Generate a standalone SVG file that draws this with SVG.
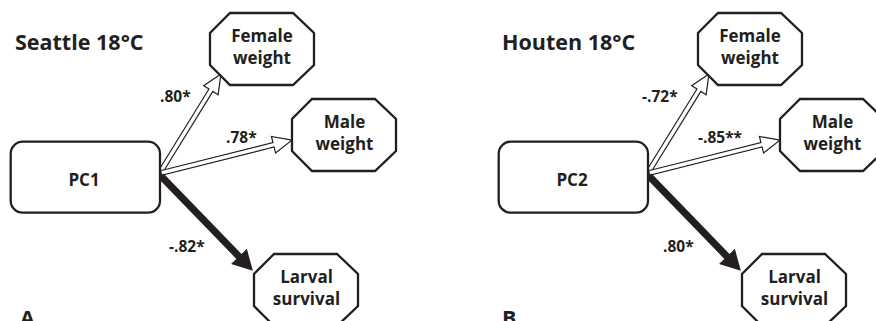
<svg xmlns="http://www.w3.org/2000/svg" xmlns:xlink="http://www.w3.org/1999/xlink" width="876" height="321" viewBox="0 0 876 321">
<style>
text{font-family:"Open Sans","DejaVu Sans",sans-serif;font-weight:700;fill:#231f20}
.title{font-size:21.5px}
.node{font-size:17px;text-anchor:middle}
.lbl{font-size:15.5px}
.box{fill:#fff;stroke:#231f20;stroke-width:2.3}
.open{fill:#fff;stroke:#231f20;stroke-width:1.2;stroke-linejoin:miter}
.solid{fill:#231f20;stroke:none}
</style>
<defs>
<polygon id="oct" class="box" points="20,0 83,0 104,20 104,52 83,72 20,72 0,52 0,20"/>
</defs>
<rect width="876" height="321" fill="#fff"/>
<text class="title" x="15" y="50">Seattle 18°C</text>
<text class="title" x="502" y="50">Houten 18°C</text>
<g id="connectors">
<path class="open" d="M0,-2.3 L95,-2.3 L95,-8.5 L114,0 L95,8.5 L95,2.3 L0,2.3 Z" transform="translate(161,171) rotate(-58.3)"/>
<path class="open" d="M0,-2.3 L116,-2.3 L116,-8.5 L135,0 L116,8.5 L116,2.3 L0,2.3 Z" transform="translate(161,173) rotate(-14.1)"/>
<path class="solid" d="M0,-3.6 L112,-3.6 L112,-11 L132,0 L112,11 L112,3.6 L0,3.6 Z" transform="translate(161,176) rotate(45.9)"/>
<path class="open" d="M0,-2.3 L95,-2.3 L95,-8.5 L114,0 L95,8.5 L95,2.3 L0,2.3 Z" transform="translate(649,171) rotate(-58.3)"/>
<path class="open" d="M0,-2.3 L116,-2.3 L116,-8.5 L135,0 L116,8.5 L116,2.3 L0,2.3 Z" transform="translate(649,173) rotate(-14.1)"/>
<path class="solid" d="M0,-3.6 L112,-3.6 L112,-11 L132,0 L112,11 L112,3.6 L0,3.6 Z" transform="translate(649,176) rotate(45.9)"/>
<text class="lbl" x="160" y="102">.80*</text>
<text class="lbl" x="226" y="143">.78*</text>
<text class="lbl" x="169" y="252">-.82*</text>
<text class="lbl" x="642" y="102">-.72*</text>
<text class="lbl" x="698" y="143">-.85**</text>
<text class="lbl" x="663" y="252">.80*</text>
</g>
<g id="pc1"><rect class="box" x="10.7" y="141.7" width="149.3" height="71" rx="12"/><text class="node" x="84" y="186">PC1</text></g>
<g id="femaleA"><use xlink:href="#oct" x="210" y="13"/><text class="node" x="262" y="42">Female</text><text class="node" x="262" y="64">weight</text></g>
<g id="maleA"><use xlink:href="#oct" x="292" y="99"/><text class="node" x="344.5" y="128">Male</text><text class="node" x="344.5" y="150">weight</text></g>
<g id="larvalA"><use xlink:href="#oct" x="254" y="254"/><text class="node" x="306.5" y="283">Larval</text><text class="node" x="306.5" y="305">survival</text></g>
<g id="pc2"><rect class="box" x="498.7" y="141.7" width="149.3" height="71" rx="12"/><text class="node" x="572" y="186">PC2</text></g>
<g id="femaleB"><use xlink:href="#oct" x="698" y="13"/><text class="node" x="750" y="42">Female</text><text class="node" x="750" y="64">weight</text></g>
<g id="maleB"><use xlink:href="#oct" x="780" y="99"/><text class="node" x="832.5" y="128">Male</text><text class="node" x="832.5" y="150">weight</text></g>
<g id="larvalB"><use xlink:href="#oct" x="742" y="254"/><text class="node" x="794.5" y="283">Larval</text><text class="node" x="794.5" y="305">survival</text></g>
<text class="title" x="20" y="326">A</text>
<text class="title" x="502" y="326">B</text>
</svg>
